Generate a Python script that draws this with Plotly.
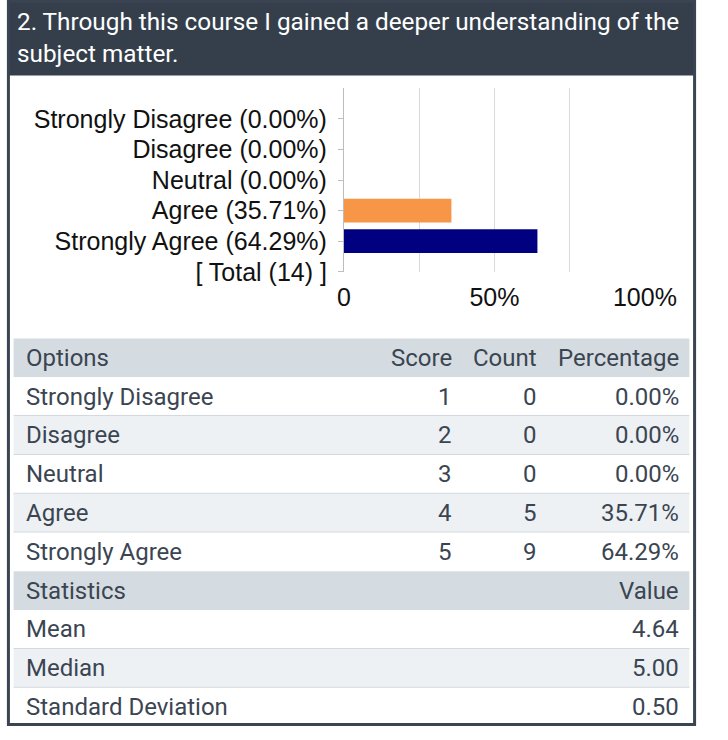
import plotly.graph_objects as go

# ---------------- data ----------------
title_text = "2. Through this course I gained a deeper understanding of the<br>subject matter."
options = ["Strongly Disagree", "Disagree", "Neutral", "Agree", "Strongly Agree"]
scores = [1, 2, 3, 4, 5]
counts = [0, 0, 0, 5, 9]
percentages = [0.00, 0.00, 0.00, 35.71, 64.29]
total_count = 14
bar_colors = ["#4f81bd", "#c0504d", "#9bbb59", "#f79646", "#000080"]
x_tickvals = [0, 25, 50, 75, 100]
x_ticktext = ["0", "", "50%", "", "100%"]
table_headers = ["Options", "Score", "Count", "Percentage"]
stat_headers = ["Statistics", "Value"]
stat_names = ["Mean", "Median", "Standard Deviation"]
stat_values = ["4.64", "5.00", "0.50"]

W, H = 728, 740


def px(x):
    return x / W


def py(y):
    return 1 - y / H


fig = go.Figure()

idx = list(range(len(options)))
fig.add_trace(go.Bar(
    x=percentages, y=idx, orientation="h",
    marker=dict(color=bar_colors, line=dict(width=0)),
    width=0.78, hoverinfo="skip",
))

ylabels = [f"{o} ({p:.2f}%)" for o, p in zip(options, percentages)] + [f"[ Total ({total_count}) ]"]

fig.update_layout(
    autosize=True,
    margin=dict(l=0, r=0, t=0, b=0),
    paper_bgcolor="white", plot_bgcolor="white",
    showlegend=False,
    xaxis=dict(
        domain=[px(356), px(674)], range=[0, 100],
        tickvals=x_tickvals, ticktext=x_ticktext,
        showgrid=True, gridcolor="#d9d9d9", gridwidth=1,
        zeroline=False, showline=False, ticks="",
        ticklabelstandoff=8,
        tickfont=dict(family="Liberation Sans, Arial", size=25, color="#111"),
        fixedrange=True,
    ),
    yaxis=dict(
        domain=[py(277), py(90)], range=[5, -1],
        tickvals=list(range(len(ylabels))), ticktext=ylabels,
        showgrid=False, zeroline=False,
        showline=True, linecolor="#bdbdbd", linewidth=1,
        ticks="outside", ticklen=5, tickcolor="#bdbdbd",
        ticklabelstandoff=6,
        tickfont=dict(family="Liberation Sans, Arial", size=25, color="#111"),
        fixedrange=True,
    ),
)

shapes = []
annotations = []

# title band
shapes.append(dict(type="rect", xref="paper", yref="paper", x0=0, x1=1, y0=py(77), y1=1,
                   fillcolor="#353f4c", line=dict(width=0), layer="below"))
annotations.append(dict(xref="paper", yref="paper", x=px(8), y=py(5), xanchor="left", yanchor="top",
                        align="left", showarrow=False, text=title_text,
                        font=dict(family="Roboto", size=24.3, color="white")))

# table rows
row_h = 39.55
top = 345
tcolor = "#3b4552"
tfont = dict(family="Roboto", size=24, color=tcolor)
col_right = [None, 472, 562, 712]
rows = []
rows.append(("header", table_headers))
for i, o in enumerate(options):
    rows.append(("row", [o, str(scores[i]), str(counts[i]), f"{percentages[i]:.2f}%"]))
rows.append(("header2", stat_headers))
for n, v in zip(stat_names, stat_values):
    rows.append(("stat", [n, v]))

alt = False
for r, (kind, cells) in enumerate(rows):
    y0 = top + r * row_h
    y1 = y0 + row_h
    if kind.startswith("header"):
        fill = "#d5dce1"
        alt = False
    else:
        fill = "#edf1f4" if alt else "white"
        alt = not alt
    shapes.append(dict(type="rect", xref="paper", yref="paper", x0=px(7), x1=px(721),
                       y0=py(y1), y1=py(y0), fillcolor=fill, line=dict(width=0), layer="below"))
    if kind in ("row", "stat") and r + 1 < len(rows) and not rows[r + 1][0].startswith("header"):
        shapes.append(dict(type="line", xref="paper", yref="paper", x0=px(7), x1=px(721),
                           y0=py(y1), y1=py(y1), line=dict(color="#d3d9de", width=2), layer="below"))
    yc = py((y0 + y1) / 2)
    annotations.append(dict(xref="paper", yref="paper", x=px(18), y=yc, xanchor="left", yanchor="middle",
                            showarrow=False, text=cells[0], font=tfont))
    if len(cells) == 4:
        for c in range(1, 4):
            annotations.append(dict(xref="paper", yref="paper", x=px(col_right[c]), y=yc, xanchor="right",
                                    yanchor="middle", showarrow=False, text=cells[c], font=tfont))
    else:
        annotations.append(dict(xref="paper", yref="paper", x=px(712), y=yc, xanchor="right",
                                yanchor="middle", showarrow=False, text=cells[1], font=tfont))

# outer panel border
border = "#3b4452"
shapes.append(dict(type="rect", xref="paper", yref="paper", x0=px(1.5), x1=px(726.5), y0=py(738.5), y1=py(1),
                   fillcolor="rgba(0,0,0,0)", line=dict(color=border, width=3)))

fig.update_layout(shapes=shapes, annotations=annotations)
# div pinned to the top-left corner of the window, exactly window-sized
fig.write_html("out.html", config={"displayModeBar": False},
               default_width=f"{W}px; position:absolute; left:0; top:0", default_height=f"{H}px")
